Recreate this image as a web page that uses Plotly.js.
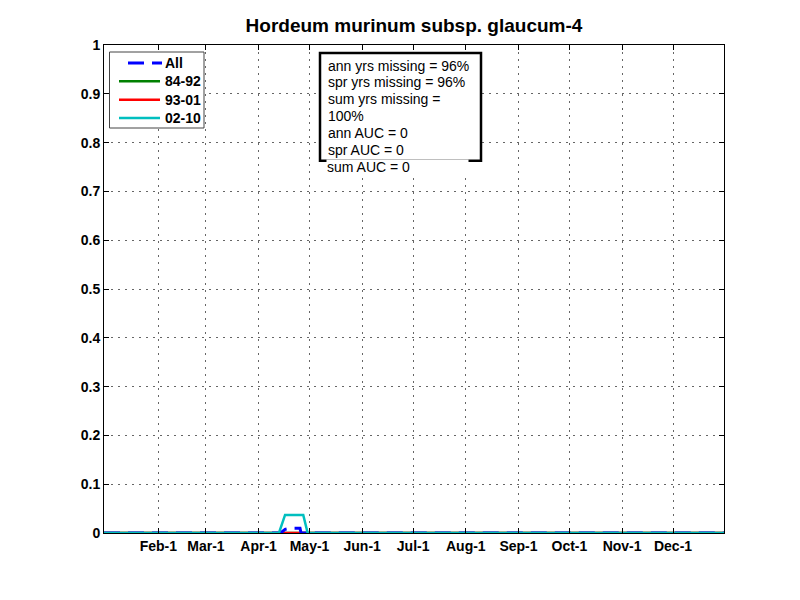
<!DOCTYPE html>
<html>
<head>
<meta charset="utf-8">
<script src="https://cdn.plot.ly/plotly-3.0.1.min.js"></script>
<style>html,body{margin:0;padding:0;background:#fff;}#chart{width:800px;height:600px;}</style>
</head>
<body>
<div id="chart"></div>
<script>
// Day-of-year positions and values
var allDays = [0, 104, 106.6, 109.5, 115.4, 116, 365];
var allVals = [0, 0, 0.0076, 0.0096, 0.0096, 0, 0];

var g8492Days = [0, 365];
var g8492Vals = [0, 0];

var g9301Days = [0, 365];
var g9301Vals = [0, 0];

var g0210Days = [0, 103, 106.6, 117.3, 119.9, 365];
var g0210Vals = [0, 0, 0.037, 0.037, 0, 0];

var seriesNames = ["All", "84-92", "93-01", "02-10"];
var seriesColors = ["#0000ff", "#008000", "#ff0000", "#00bfbf"];

var tickDays = [32, 60, 91, 121, 152, 182, 213, 244, 274, 305, 335];
var tickLabels = ["Feb-1", "Mar-1", "Apr-1", "May-1", "Jun-1", "Jul-1", "Aug-1", "Sep-1", "Oct-1", "Nov-1", "Dec-1"];

var yTicks = [0, 0.1, 0.2, 0.3, 0.4, 0.5, 0.6, 0.7, 0.8, 0.9, 1];
var yLabels = ["0", "0.1", "0.2", "0.3", "0.4", "0.5", "0.6", "0.7", "0.8", "0.9", "1"];

var infoLines = ["ann yrs missing = 96%", "spr yrs missing = 96%", "sum yrs missing =", "100%", "ann AUC = 0", "spr AUC = 0", "sum AUC = 0"];

var traces = [
  {x: g8492Days, y: g8492Vals, name: seriesNames[1], mode: "lines", line: {color: seriesColors[1], width: 2.5}},
  {x: g9301Days, y: g9301Vals, name: seriesNames[2], mode: "lines", line: {color: seriesColors[2], width: 2.5}},
  {x: allDays, y: allVals, name: seriesNames[0], mode: "lines", line: {color: seriesColors[0], width: 3, dash: "16px,8px"}},
  {x: g0210Days, y: g0210Vals, name: seriesNames[3], mode: "lines", line: {color: seriesColors[3], width: 2.5}}
];

// pixel -> paper helpers (plot area 104..724 x 45..533)
function px(x) { return (x - 104) / 620; }
function py(y) { return (533 - y) / 488; }

var shapes = [];
var annotations = [];

// legend box (drawn manually to match the MATLAB legend spacing)
shapes.push({type: "rect", xref: "paper", yref: "paper", x0: px(109.5), x1: px(204), y0: py(128), y1: py(52),
             line: {color: "#444", width: 1}, fillcolor: "#fff", layer: "above"});
var legendY = [63, 81.3, 99.7, 118];
for (var i = 0; i < seriesNames.length; i++) {
  var dashed = (i === 0);
  shapes.push({type: "line", xref: "paper", yref: "paper",
               x0: px(dashed ? 128 : 119), x1: px(dashed ? 162 : 160), y0: py(legendY[i]), y1: py(legendY[i]),
               line: {color: seriesColors[i], width: dashed ? 3 : 2.5, dash: dashed ? "16px,8px" : "solid"}, layer: "above"});
  annotations.push({xref: "paper", yref: "paper", x: px(164), y: py(legendY[i]), xanchor: "left", yanchor: "middle",
                    showarrow: false, text: seriesNames[i], borderpad: 0,
                    font: {size: 14, weight: "bold", color: "#000", family: "Arial, Liberation Sans, sans-serif"}});
}

// info box
shapes.push({type: "rect", xref: "paper", yref: "paper", x0: px(320), x1: px(481), y0: py(160.7), y1: py(53),
             line: {color: "#000", width: 2.5}, fillcolor: "#fff", layer: "above"});
for (var j = 0; j < infoLines.length; j++) {
  var last = (j === infoLines.length - 1);
  var ann = {xref: "paper", yref: "paper", x: px(last ? 325.5 : 327), y: py(65.5 + j * 16.8), xanchor: "left", yanchor: "middle",
             showarrow: false, text: infoLines[j], borderpad: 0, align: "left",
             font: {size: 14, color: "#000", family: "Arial, Liberation Sans, sans-serif"}};
  if (last) { ann.bgcolor = "#fff"; ann.width = 141; ann.height = 13; }
  annotations.push(ann);
}

var layout = {
  width: 800, height: 600,
  margin: {l: 104, r: 76, t: 45, b: 67},
  paper_bgcolor: "#fff", plot_bgcolor: "#fff",
  showlegend: false,
  font: {family: "Arial, Liberation Sans, sans-serif", color: "#000"},
  title: {text: "Hordeum murinum subsp. glaucum-4", x: 0.5175, xanchor: "center", y: 0.958, yanchor: "middle",
          font: {size: 19, weight: "bold", family: "Arial, Liberation Sans, sans-serif", color: "#000"}},
  xaxis: {range: [0, 365], tickmode: "array", tickvals: tickDays, ticktext: tickLabels,
          showgrid: true, gridcolor: "#666", griddash: "2px,5px", gridwidth: 1,
          showline: true, linecolor: "#000", linewidth: 1, mirror: "ticks",
          ticks: "inside", ticklen: 5, tickcolor: "#000", zeroline: false,
          tickfont: {size: 14, weight: "bold", color: "#000"}},
  yaxis: {range: [0, 1], tickmode: "array", tickvals: yTicks, ticktext: yLabels,
          showgrid: true, gridcolor: "#666", griddash: "2px,5px", gridwidth: 1,
          showline: true, linecolor: "#000", linewidth: 1, mirror: "ticks",
          ticks: "inside", ticklen: 5, tickcolor: "#000", zeroline: false,
          tickfont: {size: 14, weight: "bold", color: "#000"}},
  shapes: shapes,
  annotations: annotations
};

Plotly.newPlot("chart", traces, layout, {displayModeBar: false, staticPlot: true});
</script>
</body>
</html>
